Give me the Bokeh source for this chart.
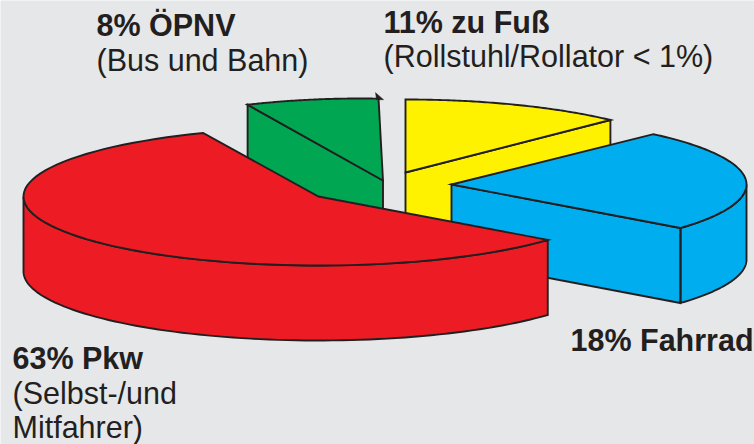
import numpy as np
from bokeh.plotting import figure
from bokeh.models import Range1d
from bokeh.core.properties import value
from bokeh.embed import file_html
from bokeh.resources import INLINE

# data
categories = ["Pkw", "ÖPNV", "zu Fuß", "Fahrrad"]
shares = [63, 8, 11, 18]
headings = [f"{s}% {c}" for s, c in zip(shares, categories)]
notes = [["(Selbst-/und", "Mitfahrer)"], ["(Bus und Bahn)"], ["(Rollstuhl/Rollator < 1%)"], []]

# colours
colors = ["#ed1c24", "#00a651", "#fff200", "#00aeef"]
INK = "#231f20"
BG = "#e6e7e9"

# layout of the hand-drawn 3D pie (page pixels)
RX, DEPTH = 295, 75
apex = [(318, 196), (382.5, 180), (405, 172), (451, 184)]
centre = [(318, 196), (360, 180), (405, 172), (451, 184)]
ry = [69, 82, 73, 69]
start_deg = [39.0, 247.5, 270, 313.2]
skew = [0.917, 0.903, 1.111, 1.326]     # the drawing's perspective distorts each slice's sweep
wall_from = [39.0, None, None, 360]      # start of the visible curved wall
wall_to = [180, None, None, 399]
side = [None, "start", "end", "end"]     # which cut face is visible
paint_order = [2, 3, 1, 0]

text_x = [12, 96, 383, 570]
text_y = [[367, 402, 436], [34, 69], [31, 65], [349]]
TEXT_SHIFT = -10

p = figure(width=754, height=444, x_range=Range1d(0, 754), y_range=Range1d(444, 0),
           x_axis_type=None, y_axis_type=None, toolbar_location=None, output_backend="svg",
           min_border=0, background_fill_color=BG, border_fill_color=BG, outline_line_color=None)
p.grid.visible = False


def rim(i, a, b, n=80):
    t = np.radians(np.linspace(a, b, n))
    return centre[i][0] + RX * np.cos(t), centre[i][1] + ry[i] * np.sin(t)


def shape(xs, ys, fill):
    p.patch(list(xs), list(ys), fill_color=fill, line_color=INK, line_width=1.9, line_join="miter")


for i in paint_order:
    a = start_deg[i]
    b = a + shares[i] * 3.6 * skew[i]
    ax, ay = apex[i]
    # visible cut face
    if side[i]:
        ex, ey = rim(i, a, a, 1) if side[i] == "start" else rim(i, b, b, 1)
        shape([ax, ex[0], ex[0], ax], [ay, ey[0], ey[0] + DEPTH, ay + DEPTH], colors[i])
    # curved outer wall
    if wall_from[i] is not None:
        wx, wy = rim(i, wall_from[i], wall_to[i])
        shape(np.r_[wx, wx[::-1]], np.r_[wy, wy[::-1] + DEPTH], colors[i])
    # top face
    tx, ty = rim(i, a, b)
    shape(np.r_[ax, tx], np.r_[ay, ty], colors[i])
    # the small stray tip at the end of the green slice's rim
    if i == 1:
        p.patch([tx[-1] - 2, tx[-1] - 3, tx[-1] + 5], [ty[-1] + 1, ty[-1] - 6, ty[-1] + 1],
                fill_color=INK, line_color=INK, line_width=0.5)

for i in range(len(categories)):
    lines = [headings[i]] + notes[i]
    for k, line in enumerate(lines):
        p.text([text_x[i]], [text_y[i][k]], text=[line], text_font=value("Liberation Sans"),
               text_font_size="30.5px",
               text_font_style="bold" if k == 0 else "normal",
               text_color=INK, text_baseline="alphabetic", text_align="left",
               y_offset=TEXT_SHIFT)

open("out.html", "w").write(file_html(p, INLINE))
